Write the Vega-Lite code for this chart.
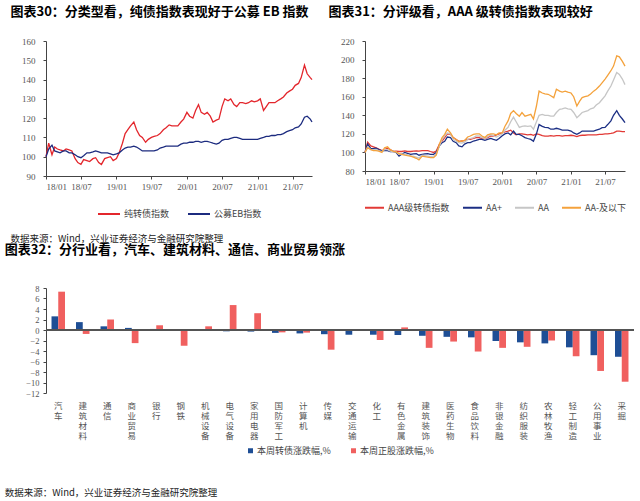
{
  "$schema": "https://vega.github.io/schema/vega-lite/v6.json",
  "padding": {"left": 4, "top": 6, "right": 0, "bottom": 0},
  "background": "white",
  "config": {
    "view": {"stroke": null},
    "font": "Noto Sans CJK SC",
    "axis": {"labelFont": "Liberation Serif", "labelFontSize": 9, "labelColor": "#555", "domainColor": "#444", "tickColor": "#444", "grid": false, "tickSize": 3, "labelOverlap": false},
    "title": {"font": "Noto Sans CJK SC", "fontWeight": "bold", "fontSize": 13, "color": "#000", "anchor": "start"},
    "legend": {"labelFont": "Noto Sans CJK SC", "labelFontSize": 9, "labelColor": "#444", "title": null, "layout": {"bottom": {"anchor": "middle"}}}
  },
  "datasets": {
    "d30": [
      {"d":"2018-01-01","纯转债指数":100,"公募EB指数":100},
      {"d":"2018-01-15","纯转债指数":107,"公募EB指数":104},
      {"d":"2018-02-01","纯转债指数":101,"公募EB指数":106},
      {"d":"2018-02-15","纯转债指数":105,"公募EB指数":103},
      {"d":"2018-03-01","纯转债指数":104,"公募EB指数":102.5},
      {"d":"2018-03-15","纯转债指数":103.5,"公募EB指数":102},
      {"d":"2018-04-01","纯转债指数":103,"公募EB指数":103},
      {"d":"2018-04-15","纯转债指数":104,"公募EB指数":103},
      {"d":"2018-05-01","纯转债指数":103.5,"公募EB指数":102},
      {"d":"2018-05-15","纯转债指数":103,"公募EB指数":102},
      {"d":"2018-06-01","纯转债指数":99,"公募EB指数":101},
      {"d":"2018-06-15","纯转债指数":97,"公募EB指数":100},
      {"d":"2018-07-01","纯转债指数":96,"公募EB指数":99.5},
      {"d":"2018-07-15","纯转债指数":98.5,"公募EB指数":100.5},
      {"d":"2018-08-01","纯转债指数":98,"公募EB指数":102},
      {"d":"2018-08-15","纯转债指数":97.5,"公募EB指数":102},
      {"d":"2018-09-01","纯转债指数":99,"公募EB指数":102.5},
      {"d":"2018-09-15","纯转债指数":99.5,"公募EB指数":103},
      {"d":"2018-10-01","纯转债指数":97,"公募EB指数":102.5},
      {"d":"2018-10-15","纯转债指数":96,"公募EB指数":102},
      {"d":"2018-11-01","纯转债指数":99,"公募EB指数":102},
      {"d":"2018-11-15","纯转债指数":99.5,"公募EB指数":102},
      {"d":"2018-12-01","纯转债指数":100,"公募EB指数":101.5},
      {"d":"2018-12-15","纯转债指数":98,"公募EB指数":101},
      {"d":"2019-01-01","纯转债指数":99,"公募EB指数":101.5},
      {"d":"2019-01-15","纯转债指数":102,"公募EB指数":102},
      {"d":"2019-02-01","纯转债指数":107,"公募EB指数":103.5},
      {"d":"2019-02-15","纯转债指数":112,"公募EB指数":104.5},
      {"d":"2019-03-01","纯转债指数":114,"公募EB指数":105},
      {"d":"2019-03-15","纯转债指数":116,"公募EB指数":105},
      {"d":"2019-04-01","纯转债指数":118,"公募EB指数":105.5},
      {"d":"2019-04-15","纯转债指数":114,"公募EB指数":105},
      {"d":"2019-05-01","纯转债指数":111,"公募EB指数":104},
      {"d":"2019-05-15","纯转债指数":110,"公募EB指数":103},
      {"d":"2019-06-01","纯转债指数":107.5,"公募EB指数":103},
      {"d":"2019-06-15","纯转债指数":109,"公募EB指数":103},
      {"d":"2019-07-01","纯转债指数":110,"公募EB指数":103},
      {"d":"2019-07-15","纯转债指数":110.5,"公募EB指数":103},
      {"d":"2019-08-01","纯转债指数":111,"公募EB指数":103.5},
      {"d":"2019-08-15","纯转债指数":112,"公募EB指数":104.5},
      {"d":"2019-09-01","纯转债指数":114,"公募EB指数":105},
      {"d":"2019-09-15","纯转债指数":115,"公募EB指数":105.5},
      {"d":"2019-10-01","纯转债指数":116.5,"公募EB指数":105.5},
      {"d":"2019-10-15","纯转债指数":116,"公募EB指数":105.5},
      {"d":"2019-11-01","纯转债指数":116,"公募EB指数":105.5},
      {"d":"2019-11-15","纯转债指数":116,"公募EB指数":105.5},
      {"d":"2019-12-01","纯转债指数":118,"公募EB指数":106.5},
      {"d":"2019-12-15","纯转债指数":119.5,"公募EB指数":107},
      {"d":"2020-01-01","纯转债指数":123,"公募EB指数":107},
      {"d":"2020-01-15","纯转债指数":121,"公募EB指数":107.5},
      {"d":"2020-02-01","纯转债指数":120,"公募EB指数":107.5},
      {"d":"2020-02-15","纯转债指数":124,"公募EB指数":108},
      {"d":"2020-03-01","纯转债指数":127,"公募EB指数":108},
      {"d":"2020-03-15","纯转债指数":123,"公募EB指数":107.5},
      {"d":"2020-04-01","纯转债指数":122,"公募EB指数":108},
      {"d":"2020-04-15","纯转债指数":123,"公募EB指数":108},
      {"d":"2020-05-01","纯转债指数":121,"公募EB指数":107.5},
      {"d":"2020-05-15","纯转债指数":118,"公募EB指数":107},
      {"d":"2020-06-01","纯转债指数":119,"公募EB指数":106.5},
      {"d":"2020-06-15","纯转债指数":119.5,"公募EB指数":107},
      {"d":"2020-07-01","纯转债指数":126,"公募EB指数":108.5},
      {"d":"2020-07-15","纯转债指数":130,"公募EB指数":109},
      {"d":"2020-08-01","纯转债指数":129,"公募EB指数":109},
      {"d":"2020-08-15","纯转债指数":130,"公募EB指数":109.5},
      {"d":"2020-09-01","纯转债指数":127,"公募EB指数":110},
      {"d":"2020-09-15","纯转债指数":126,"公募EB指数":110},
      {"d":"2020-10-01","纯转债指数":128,"公募EB指数":109.5},
      {"d":"2020-10-15","纯转债指数":128,"公募EB指数":109},
      {"d":"2020-11-01","纯转债指数":127.5,"公募EB指数":109},
      {"d":"2020-11-15","纯转债指数":128,"公募EB指数":109},
      {"d":"2020-12-01","纯转债指数":129,"公募EB指数":109},
      {"d":"2020-12-15","纯转债指数":128.5,"公募EB指数":109},
      {"d":"2021-01-01","纯转债指数":129,"公募EB指数":109},
      {"d":"2021-01-15","纯转债指数":130,"公募EB指数":109.5},
      {"d":"2021-02-01","纯转债指数":124,"公募EB指数":110},
      {"d":"2021-02-15","纯转债指数":126,"公募EB指数":110.5},
      {"d":"2021-03-01","纯转债指数":128,"公募EB指数":110.5},
      {"d":"2021-03-15","纯转债指数":128,"公募EB指数":111},
      {"d":"2021-04-01","纯转债指数":128,"公募EB指数":111},
      {"d":"2021-04-15","纯转债指数":129,"公募EB指数":111.5},
      {"d":"2021-05-01","纯转债指数":130,"公募EB指数":111.5},
      {"d":"2021-05-15","纯转债指数":131,"公募EB指数":112},
      {"d":"2021-06-01","纯转债指数":133,"公募EB指数":113},
      {"d":"2021-06-15","纯转债指数":134,"公募EB指数":113.5},
      {"d":"2021-07-01","纯转债指数":135,"公募EB指数":114},
      {"d":"2021-07-15","纯转债指数":137,"公募EB指数":115},
      {"d":"2021-08-01","纯转债指数":138,"公募EB指数":115.5},
      {"d":"2021-08-15","纯转债指数":141,"公募EB指数":117},
      {"d":"2021-09-01","纯转债指数":147.5,"公募EB指数":120.5},
      {"d":"2021-09-15","纯转债指数":143,"公募EB指数":121},
      {"d":"2021-10-01","纯转债指数":141,"公募EB指数":119.5},
      {"d":"2021-10-10","纯转债指数":140,"公募EB指数":118}
    ],
    "d31": [
      {"d":"2018-01-01","AAA级转债指数":100,"AA+":100,"AA":100,"AA-及以下":100},
      {"d":"2018-01-15","AAA级转债指数":111,"AA+":109,"AA":106,"AA-及以下":105},
      {"d":"2018-02-01","AAA级转债指数":107,"AA+":104,"AA":103,"AA-及以下":103},
      {"d":"2018-02-15","AAA级转债指数":106,"AA+":104,"AA":103,"AA-及以下":102},
      {"d":"2018-03-01","AAA级转债指数":105,"AA+":104.5,"AA":103.3,"AA-及以下":102},
      {"d":"2018-03-15","AAA级转债指数":103.5,"AA+":103,"AA":102,"AA-及以下":101.5},
      {"d":"2018-04-01","AAA级转债指数":102,"AA+":101.6,"AA":101,"AA-及以下":100},
      {"d":"2018-04-15","AAA级转债指数":103,"AA+":102,"AA":103,"AA-及以下":105},
      {"d":"2018-05-01","AAA级转债指数":104.5,"AA+":102,"AA":103,"AA-及以下":106},
      {"d":"2018-05-15","AAA级转债指数":103,"AA+":101,"AA":101.5,"AA-及以下":103},
      {"d":"2018-06-01","AAA级转债指数":101,"AA+":101,"AA":101,"AA-及以下":101},
      {"d":"2018-06-15","AAA级转债指数":101.5,"AA+":100,"AA":100.5,"AA-及以下":100.5},
      {"d":"2018-07-01","AAA级转债指数":101,"AA+":96,"AA":98,"AA-及以下":98.7},
      {"d":"2018-07-15","AAA级转债指数":101,"AA+":98,"AA":98.5,"AA-及以下":98},
      {"d":"2018-08-01","AAA级转债指数":101.6,"AA+":100,"AA":98,"AA-及以下":97},
      {"d":"2018-08-15","AAA级转债指数":101,"AA+":99,"AA":97.5,"AA-及以下":96.5},
      {"d":"2018-09-01","AAA级转债指数":101,"AA+":98,"AA":96,"AA-及以下":96},
      {"d":"2018-09-15","AAA级转债指数":101.5,"AA+":98.5,"AA":96,"AA-及以下":95},
      {"d":"2018-10-01","AAA级转债指数":101.6,"AA+":98.7,"AA":95,"AA-及以下":93.7},
      {"d":"2018-10-15","AAA级转债指数":101.5,"AA+":97,"AA":94,"AA-及以下":92},
      {"d":"2018-11-01","AAA级转债指数":102,"AA+":98,"AA":97,"AA-及以下":96},
      {"d":"2018-11-15","AAA级转债指数":102,"AA+":98.5,"AA":96.5,"AA-及以下":95.5},
      {"d":"2018-12-01","AAA级转债指数":102,"AA+":98.7,"AA":96,"AA-及以下":95},
      {"d":"2018-12-15","AAA级转债指数":101,"AA+":98,"AA":95.5,"AA-及以下":94.5},
      {"d":"2019-01-01","AAA级转债指数":100,"AA+":98,"AA":96,"AA-及以下":94.5},
      {"d":"2019-01-15","AAA级转债指数":101.5,"AA+":100,"AA":98,"AA-及以下":97},
      {"d":"2019-02-01","AAA级转债指数":109,"AA+":107,"AA":107,"AA-及以下":109},
      {"d":"2019-02-15","AAA级转债指数":112.3,"AA+":110.5,"AA":114,"AA-及以下":116},
      {"d":"2019-03-01","AAA级转债指数":116,"AA+":112,"AA":118,"AA-及以下":119.5},
      {"d":"2019-03-15","AAA级转债指数":120,"AA+":116.6,"AA":121,"AA-及以下":125},
      {"d":"2019-04-01","AAA级转债指数":119.5,"AA+":116,"AA":120,"AA-及以下":121},
      {"d":"2019-04-15","AAA级转债指数":116,"AA+":112,"AA":114,"AA-及以下":116},
      {"d":"2019-05-01","AAA级转债指数":114,"AA+":110.5,"AA":112,"AA-及以下":114},
      {"d":"2019-05-15","AAA级转债指数":112,"AA+":107,"AA":110.5,"AA-及以下":111.6},
      {"d":"2019-06-01","AAA级转债指数":112.3,"AA+":106,"AA":110,"AA-及以下":112.3},
      {"d":"2019-06-15","AAA级转债指数":113,"AA+":109,"AA":111,"AA-及以下":113},
      {"d":"2019-07-01","AAA级转债指数":114,"AA+":110.5,"AA":114,"AA-及以下":116.6},
      {"d":"2019-07-15","AAA级转债指数":114,"AA+":110.5,"AA":115,"AA-及以下":117.7},
      {"d":"2019-08-01","AAA级转债指数":115,"AA+":112.3,"AA":116,"AA-及以下":119.5},
      {"d":"2019-08-15","AAA级转债指数":116,"AA+":113,"AA":117.7,"AA-及以下":120},
      {"d":"2019-09-01","AAA级转债指数":116,"AA+":114,"AA":117.7,"AA-及以下":120},
      {"d":"2019-09-15","AAA级转债指数":115,"AA+":114,"AA":116,"AA-及以下":117.7},
      {"d":"2019-10-01","AAA级转债指数":115,"AA+":113,"AA":115,"AA-及以下":116},
      {"d":"2019-10-15","AAA级转债指数":116,"AA+":114,"AA":117,"AA-及以下":119},
      {"d":"2019-11-01","AAA级转债指数":117.7,"AA+":115,"AA":119,"AA-及以下":120},
      {"d":"2019-11-15","AAA级转债指数":117.5,"AA+":114,"AA":118,"AA-及以下":120},
      {"d":"2019-12-01","AAA级转债指数":119,"AA+":113,"AA":116.6,"AA-及以下":119},
      {"d":"2019-12-15","AAA级转债指数":120,"AA+":115,"AA":118,"AA-及以下":121},
      {"d":"2020-01-01","AAA级转债指数":121,"AA+":118,"AA":120,"AA-及以下":121},
      {"d":"2020-01-15","AAA级转债指数":122,"AA+":120,"AA":124,"AA-及以下":128},
      {"d":"2020-02-01","AAA级转债指数":123,"AA+":121,"AA":127,"AA-及以下":134},
      {"d":"2020-02-15","AAA级转债指数":124,"AA+":119,"AA":133,"AA-及以下":142},
      {"d":"2020-03-01","AAA级转债指数":121,"AA+":123,"AA":138,"AA-及以下":145},
      {"d":"2020-03-15","AAA级转债指数":119,"AA+":119.5,"AA":133,"AA-及以下":142},
      {"d":"2020-04-01","AAA级转债指数":120,"AA+":119.5,"AA":127,"AA-及以下":139},
      {"d":"2020-04-15","AAA级转债指数":120,"AA+":118,"AA":128,"AA-及以下":143},
      {"d":"2020-05-01","AAA级转债指数":119.5,"AA+":116,"AA":128.5,"AA-及以下":139},
      {"d":"2020-05-15","AAA级转债指数":119,"AA+":115,"AA":128,"AA-及以下":140},
      {"d":"2020-06-01","AAA级转债指数":119.5,"AA+":114,"AA":128.5,"AA-及以下":141},
      {"d":"2020-06-15","AAA级转债指数":118.5,"AA+":112,"AA":125,"AA-及以下":136},
      {"d":"2020-07-01","AAA级转债指数":120,"AA+":120,"AA":133,"AA-及以下":150},
      {"d":"2020-07-15","AAA级转债指数":119.5,"AA+":130,"AA":140,"AA-及以下":166},
      {"d":"2020-08-01","AAA级转债指数":118,"AA+":128,"AA":141,"AA-及以下":164},
      {"d":"2020-08-15","AAA级转债指数":117.5,"AA+":127,"AA":140,"AA-及以下":163},
      {"d":"2020-09-01","AAA级转债指数":117.5,"AA+":126.7,"AA":140,"AA-及以下":162.6},
      {"d":"2020-09-15","AAA级转债指数":118,"AA+":125,"AA":139,"AA-及以下":161},
      {"d":"2020-10-01","AAA级转债指数":117.5,"AA+":125,"AA":139,"AA-及以下":159},
      {"d":"2020-10-15","AAA级转债指数":118,"AA+":126,"AA":143,"AA-及以下":168},
      {"d":"2020-11-01","AAA级转债指数":118,"AA+":125,"AA":146.4,"AA-及以下":166},
      {"d":"2020-11-15","AAA级转债指数":117.5,"AA+":124,"AA":147,"AA-及以下":165},
      {"d":"2020-12-01","AAA级转债指数":118,"AA+":124,"AA":148,"AA-及以下":166},
      {"d":"2020-12-15","AAA级转债指数":118,"AA+":124,"AA":147,"AA-及以下":165},
      {"d":"2021-01-01","AAA级转债指数":118.5,"AA+":123,"AA":146.4,"AA-及以下":164},
      {"d":"2021-01-15","AAA级转债指数":118,"AA+":121,"AA":143,"AA-及以下":160},
      {"d":"2021-02-01","AAA级转债指数":117,"AA+":119.5,"AA":137.4,"AA-及以下":150},
      {"d":"2021-02-15","AAA级转债指数":118,"AA+":121,"AA":140,"AA-及以下":155},
      {"d":"2021-03-01","AAA级转债指数":118.5,"AA+":123,"AA":143,"AA-及以下":159},
      {"d":"2021-03-15","AAA级转债指数":118.5,"AA+":123,"AA":144,"AA-及以下":160},
      {"d":"2021-04-01","AAA级转债指数":119,"AA+":123,"AA":145,"AA-及以下":161},
      {"d":"2021-04-15","AAA级转债指数":119,"AA+":123,"AA":147,"AA-及以下":163},
      {"d":"2021-05-01","AAA级转债指数":119,"AA+":123,"AA":148,"AA-及以下":166},
      {"d":"2021-05-15","AAA级转债指数":119,"AA+":124,"AA":151,"AA-及以下":168},
      {"d":"2021-06-01","AAA级转债指数":119.5,"AA+":125,"AA":153.6,"AA-及以下":171.5},
      {"d":"2021-06-15","AAA级转债指数":119.5,"AA+":126.7,"AA":157,"AA-及以下":175},
      {"d":"2021-07-01","AAA级转债指数":120,"AA+":127,"AA":161,"AA-及以下":179},
      {"d":"2021-07-15","AAA级转债指数":120,"AA+":130,"AA":166,"AA-及以下":183},
      {"d":"2021-08-01","AAA级转债指数":120.5,"AA+":134,"AA":171.5,"AA-及以下":188},
      {"d":"2021-08-15","AAA级转债指数":121,"AA+":140,"AA":178,"AA-及以下":193},
      {"d":"2021-09-01","AAA级转债指数":123,"AA+":145,"AA":186,"AA-及以下":204},
      {"d":"2021-09-15","AAA级转债指数":123,"AA+":140,"AA":184,"AA-及以下":203},
      {"d":"2021-10-01","AAA级转债指数":122.5,"AA+":136,"AA":179,"AA-及以下":198},
      {"d":"2021-10-15","AAA级转债指数":122.5,"AA+":132,"AA":173,"AA-及以下":193}
    ],
    "d32": [
      {"ind":"汽车","本周转债涨跌幅,%":2.6,"本周正股涨跌幅,%":7.3},
      {"ind":"建筑材料","本周转债涨跌幅,%":1.5,"本周正股涨跌幅,%":-0.75},
      {"ind":"通信","本周转债涨跌幅,%":0.7,"本周正股涨跌幅,%":2.0},
      {"ind":"商业贸易","本周转债涨跌幅,%":0.4,"本周正股涨跌幅,%":-2.5},
      {"ind":"银行","本周转债涨跌幅,%":0.2,"本周正股涨跌幅,%":0.9},
      {"ind":"钢铁","本周转债涨跌幅,%":0.1,"本周正股涨跌幅,%":-3.0},
      {"ind":"机械设备","本周转债涨跌幅,%":0.02,"本周正股涨跌幅,%":0.7},
      {"ind":"电气设备","本周转债涨跌幅,%":-0.25,"本周正股涨跌幅,%":4.75},
      {"ind":"家用电器","本周转债涨跌幅,%":-0.3,"本周正股涨跌幅,%":3.2},
      {"ind":"国防军工","本周转债涨跌幅,%":-0.55,"本周正股涨跌幅,%":-0.45},
      {"ind":"计算机","本周转债涨跌幅,%":-0.65,"本周正股涨跌幅,%":-0.5},
      {"ind":"传媒","本周转债涨跌幅,%":-0.8,"本周正股涨跌幅,%":-3.75},
      {"ind":"交通运输","本周转债涨跌幅,%":-0.9,"本周正股涨跌幅,%":-0.1},
      {"ind":"化工","本周转债涨跌幅,%":-0.9,"本周正股涨跌幅,%":-1.9},
      {"ind":"有色金属","本周转债涨跌幅,%":-0.95,"本周正股涨跌幅,%":0.5},
      {"ind":"建筑装饰","本周转债涨跌幅,%":-1.1,"本周正股涨跌幅,%":-3.4},
      {"ind":"医药生物","本周转债涨跌幅,%":-1.3,"本周正股涨跌幅,%":-2.2},
      {"ind":"食品饮料","本周转债涨跌幅,%":-1.4,"本周正股涨跌幅,%":-4.1},
      {"ind":"非银金融","本周转债涨跌幅,%":-2.1,"本周正股涨跌幅,%":-3.4},
      {"ind":"纺织服装","本周转债涨跌幅,%":-2.35,"本周正股涨跌幅,%":-3.2},
      {"ind":"农林牧渔","本周转债涨跌幅,%":-2.55,"本周正股涨跌幅,%":-2.0},
      {"ind":"轻工制造","本周转债涨跌幅,%":-3.3,"本周正股涨跌幅,%":-5.0},
      {"ind":"公用事业","本周转债涨跌幅,%":-4.8,"本周正股涨跌幅,%":-7.8},
      {"ind":"采掘","本周转债涨跌幅,%":-5.1,"本周正股涨跌幅,%":-9.85}
    ]
  },
  "spacing": 0,
  "resolve": {"scale": {"color": "independent"}, "legend": {"color": "independent"}},
  "vconcat": [
    {
      "spacing": 13,
      "resolve": {"scale": {"color": "independent"}, "legend": {"color": "independent"}},
      "title": {"text": "数据来源：Wind，兴业证券经济与金融研究院整理", "orient": "bottom", "anchor": "start", "fontSize": 9.5, "fontWeight": "normal", "color": "#222", "offset": 15},
      "hconcat": [
        {
          "width": 266, "height": 135,
          "title": {"text": "图表30：分类型看，纯债指数表现好于公募 EB 指数", "frame": "bounds", "dx": -11, "offset": 18},
          "data": {"name": "d30"},
          "transform": [{"fold": ["纯转债指数", "公募EB指数"], "as": ["s", "v"]}],
          "mark": {"type": "line", "strokeWidth": 1.3},
          "encoding": {
            "x": {"field": "d", "type": "temporal", "title": null,
                  "scale": {"type": "utc", "domain": [{"year": 2018, "month": 1, "date": 1, "utc": true}, {"year": 2021, "month": 10, "date": 10, "utc": true}]},
                  "axis": {"tickCount": {"interval": "month", "step": 6}, "format": "%y/%m", "labelPadding": 3}},
            "y": {"field": "v", "type": "quantitative", "title": null,
                  "scale": {"domain": [90, 160]},
                  "axis": {"values": [90, 100, 110, 120, 130, 140, 150, 160], "labelPadding": 8}},
            "color": {"field": "s", "type": "nominal",
                      "scale": {"domain": ["纯转债指数", "公募EB指数"], "range": ["#E3262C", "#1C2B7F"]},
                      "legend": {"orient": "bottom", "direction": "horizontal", "symbolType": "stroke", "symbolSize": 484, "symbolStrokeWidth": 2, "columnPadding": 14, "labelOffset": 3, "offset": 11}}
          }
        },
        {
          "width": 260, "height": 130,
          "title": {"text": "图表31：分评级看，AAA 级转债指数表现较好", "frame": "bounds", "dx": -12, "offset": 18},
          "data": {"name": "d31"},
          "transform": [{"fold": ["AAA级转债指数", "AA+", "AA", "AA-及以下"], "as": ["s", "v"]}],
          "mark": {"type": "line", "strokeWidth": 1.3},
          "encoding": {
            "x": {"field": "d", "type": "temporal", "title": null,
                  "scale": {"type": "utc", "domain": [{"year": 2018, "month": 1, "date": 1, "utc": true}, {"year": 2021, "month": 10, "date": 15, "utc": true}]},
                  "axis": {"tickCount": {"interval": "month", "step": 6}, "format": "%y/%m", "labelPadding": 3}},
            "y": {"field": "v", "type": "quantitative", "title": null,
                  "scale": {"domain": [80, 220]},
                  "axis": {"values": [80, 100, 120, 140, 160, 180, 200, 220], "labelPadding": 8}},
            "color": {"field": "s", "type": "nominal",
                      "scale": {"domain": ["AAA级转债指数", "AA+", "AA", "AA-及以下"], "range": ["#E23A36", "#1C2F84", "#C6C6C6", "#F4A23C"]},
                      "legend": {"orient": "bottom", "direction": "horizontal", "symbolType": "stroke", "symbolSize": 361, "symbolStrokeWidth": 2, "columnPadding": 9, "labelOffset": 3, "offset": 11}}
          }
        }
      ]
    },
    {
      "resolve": {"scale": {"color": "independent"}, "legend": {"color": "independent"}},
      "title": {"text": "数据来源：Wind，兴业证券经济与金融研究院整理", "orient": "bottom", "anchor": "start", "fontSize": 9.5, "fontWeight": "normal", "color": "#222", "offset": 32},
      "vconcat": [
        {
          "width": 588, "height": 105,
          "title": {"text": "图表32：分行业看，汽车、建筑材料、通信、商业贸易领涨", "frame": "bounds", "dx": -21, "offset": 27},
          "data": {"name": "d32"},
          "transform": [{"fold": ["本周转债涨跌幅,%", "本周正股涨跌幅,%"], "as": ["s", "v"]}],
          "resolve": {"axis": {"y": "independent"}},
          "layer": [
            {
              "mark": {"type": "bar"},
              "encoding": {
                "x": {"field": "ind", "type": "nominal", "sort": null, "title": null,
                      "scale": {"paddingInner": 0.45, "paddingOuter": 0.225},
                      "axis": {"labelAngle": 0, "labelExpr": "split(datum.label, '')", "domain": false, "ticks": false, "labelFont": "Noto Sans CJK SC", "labelFontSize": 8.5, "labelLineHeight": 10, "labelBaseline": "top", "labelPadding": 8, "labelColor": "#555", "labelOverlap": false}},
                "xOffset": {"field": "s", "type": "nominal", "sort": ["本周转债涨跌幅,%", "本周正股涨跌幅,%"]},
                "y": {"field": "v", "type": "quantitative", "title": null,
                      "scale": {"domain": [-12, 8]},
                      "axis": {"values": [-12, -10, -8, -6, -4, -2, 0, 2, 4, 6, 8], "labelPadding": 4, "labelOverlap": false, "labelFontSize": 8.5}},
                "color": {"field": "s", "type": "nominal",
                          "scale": {"domain": ["本周转债涨跌幅,%", "本周正股涨跌幅,%"], "range": ["#1E4E95", "#F0605F"]},
                          "legend": {"orient": "bottom", "direction": "horizontal", "symbolType": "square", "symbolSize": 25, "columnPadding": 18, "labelOffset": 2, "offset": 6}}
              }
            },
            {"mark": {"type": "rule", "color": "#555"}, "encoding": {"y": {"datum": 0, "type": "quantitative", "axis": null}}}
          ]
        }
      ]
    }
  ]
}
